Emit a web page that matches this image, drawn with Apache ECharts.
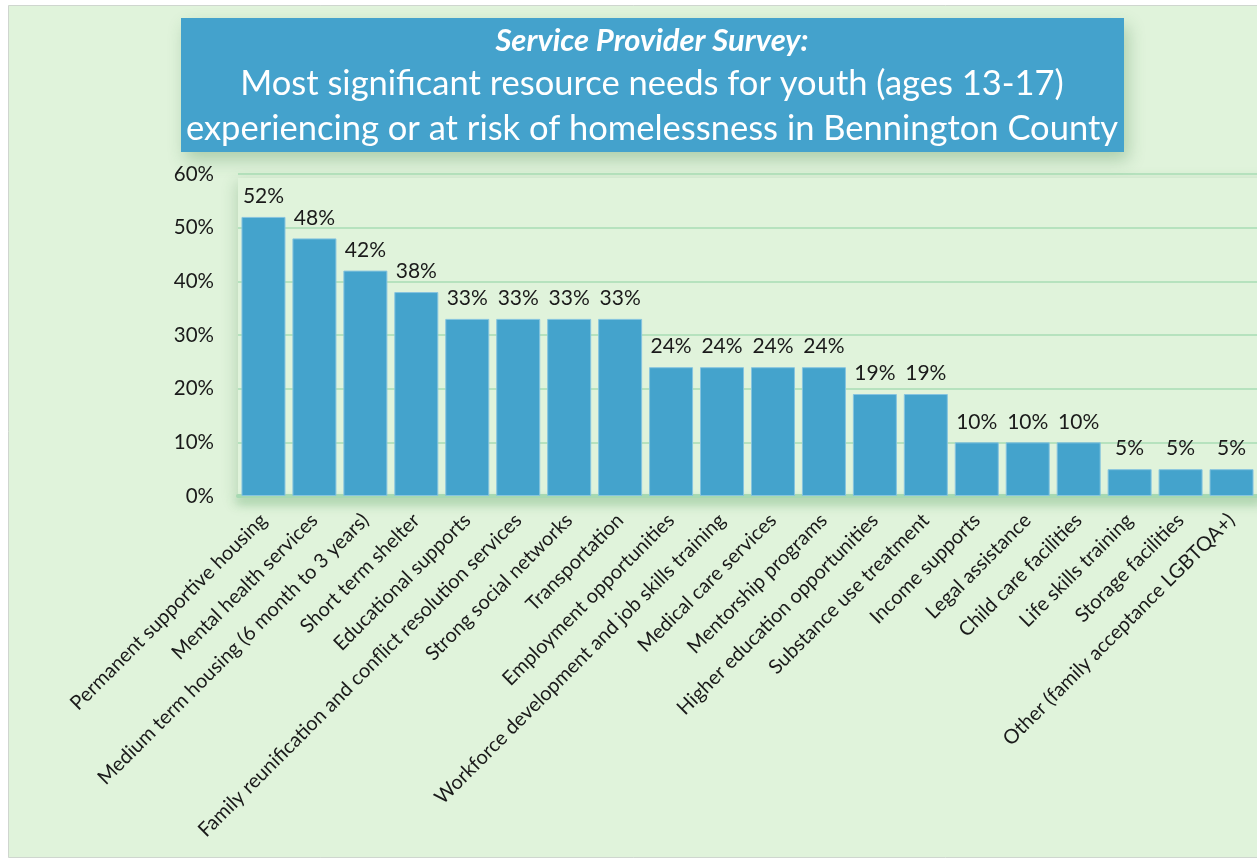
<!DOCTYPE html>
<html>
<head>
<meta charset="utf-8">
<script src="https://cdn.jsdelivr.net/npm/echarts@6/dist/echarts.min.js"></script>
<style>
  html, body { margin: 0; padding: 0; background: #ffffff; }
  #chart { width: 1257px; height: 861px; }
</style>
</head>
<body>
<div id="chart"></div>
<script>
// Resource needs named by service providers (share of respondents, %)
const categories = [
  'Permanent supportive housing',
  'Mental health services',
  'Medium term housing (6 month to 3 years)',
  'Short term shelter',
  'Educational supports',
  'Family reunification and conflict resolution services',
  'Strong social networks',
  'Transportation',
  'Employment opportunities',
  'Workforce development and job skills training',
  'Medical care services',
  'Mentorship programs',
  'Higher education opportunities',
  'Substance use treatment',
  'Income supports',
  'Legal assistance',
  'Child care facilities',
  'Life skills training',
  'Storage facilities',
  'Other (family acceptance LGBTQA+)'
];
const shares = [52, 48, 42, 38, 33, 33, 33, 33, 24, 24, 24, 24, 19, 19, 10, 10, 10, 5, 5, 5];
const yTicks = { min: 0, max: 60, step: 10 };

const titleLead = 'Service Provider Survey:';
const titleLines = [
  'Most significant resource needs for youth (ages 13-17)',
  'experiencing or at risk of homelessness in Bennington County'
];

const FONT = 'Lato, "Open Sans", sans-serif';
const chart = echarts.init(document.getElementById('chart'), null, { renderer: 'canvas' });

chart.setOption({
  animation: false,
  backgroundColor: 'transparent',
  graphic: [
    // panel background
    { type: 'rect', z: -10, shape: { x: 8.5, y: 5.5, width: 1260, height: 852 },
      style: { fill: '#e0f3db', stroke: '#cfd6cf', lineWidth: 1 } },
    // soft shadow around plot area
    { type: 'rect', z: -9, shape: { x: 238, y: 178, width: 1040, height: 320 },
      style: { fill: '#e0f3db', shadowBlur: 14, shadowOffsetX: -2, shadowOffsetY: 4, shadowColor: 'rgba(40,110,50,0.22)' } },
    // title box
    { type: 'rect', z: 10, shape: { x: 181, y: 18, width: 943, height: 134 },
      style: { fill: '#44a2cc', shadowBlur: 16, shadowOffsetX: 4, shadowOffsetY: 8, shadowColor: 'rgba(40,110,50,0.28)' } },
    { type: 'text', z: 11, x: 652, y: 41,
      style: { text: titleLead, fill: '#ffffff', font: 'italic bold 31px ' + FONT, textAlign: 'center', textVerticalAlign: 'middle' } },
    { type: 'text', z: 11, x: 652, y: 84,
      style: { text: titleLines[0], fill: '#ffffff', font: '34.5px ' + FONT, textAlign: 'center', textVerticalAlign: 'middle' } },
    { type: 'text', z: 11, x: 652, y: 129,
      style: { text: titleLines[1], fill: '#ffffff', font: '34.5px ' + FONT, textAlign: 'center', textVerticalAlign: 'middle' } }
  ],
  grid: { left: 238, top: 174, width: 1026, height: 322, containLabel: false },
  xAxis: {
    type: 'category',
    data: categories,
    axisTick: { show: false },
    axisLine: { show: true, lineStyle: { color: '#a7d9b2', width: 4, shadowBlur: 8, shadowOffsetY: 5, shadowColor: 'rgba(120,190,130,0.6)' } },
    axisLabel: { interval: 0, rotate: 45, margin: 21, fontFamily: FONT, fontSize: 20, color: '#1a1a1a' }
  },
  yAxis: {
    type: 'value',
    min: yTicks.min, max: yTicks.max, interval: yTicks.step,
    axisLine: { show: false },
    axisTick: { show: false },
    axisLabel: { formatter: '{value}%', margin: 24, fontFamily: FONT, fontSize: 20.5, color: '#1a1a1a' },
    splitLine: { show: true, lineStyle: { color: '#a9dcb4', width: 1.5 } }
  },
  series: [{
    type: 'bar',
    data: shares,
    barWidth: 44,
    itemStyle: { color: '#44a3cc', borderColor: '#86c4df', borderWidth: 1 },
    label: { show: true, position: 'top', distance: 10, formatter: '{c}%', fontFamily: FONT, fontSize: 21, color: '#1a1a1a' }
  }]
});
</script>
</body>
</html>
